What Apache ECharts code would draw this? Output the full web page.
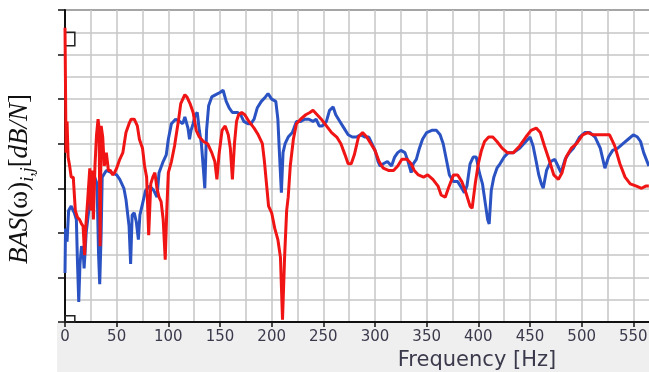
<!DOCTYPE html>
<html>
<head>
<meta charset="utf-8">
<script src="https://cdn.jsdelivr.net/npm/echarts@6/dist/echarts.min.js"></script>
<style>
  html, body { margin: 0; padding: 0; background: #fff; }
  #chart { width: 649px; height: 372px; }
</style>
</head>
<body>
<div id="chart"></div>
<script>
// frequency [Hz] and level (grid units)
const blueHz = [0, 0.5, 2, 3.5, 6, 9, 11, 12, 13.3, 14.5, 16, 17.5, 18.5, 20.5, 23, 25.5, 28, 31, 32.5, 33.6,
  35, 36, 40, 45, 50, 53, 57, 59, 61, 62, 63.5, 65, 67, 69, 71, 72.5, 75, 78, 82, 86,
  89, 91, 95, 98, 100, 103, 107, 111, 114, 116, 119, 120.5, 122, 124, 126, 128, 130, 132, 134, 135.3,
  137, 139, 142, 146, 150, 153, 156, 159, 162, 167, 170, 173, 177, 180, 183, 186, 190, 194, 196.5, 200,
  204, 206, 207.5, 209.4, 211, 213, 216, 220, 224, 228, 232, 236, 240, 243, 246, 249, 253, 256, 259.5, 262,
  266, 270, 274, 278, 282, 286, 290, 294, 297, 300, 303, 305, 308, 312, 316, 319, 322, 325, 329, 332,
  335, 337, 340, 343, 346, 350, 355, 359.5, 363, 366, 369, 372, 376, 380, 384, 386.5, 389, 392, 395, 398,
  401, 404, 406.5, 409, 410.5, 412.5, 415, 418, 421, 425, 429, 434, 440, 446, 450, 453, 456, 458.5, 461, 462.8,
  466, 470, 474, 477, 480, 484, 488, 492, 498, 503, 508, 513, 518, 522.5, 526, 530, 535, 540, 545, 550,
  554, 557, 560, 565];
const blueVal = [2.2, 4.2, 3.6, 5.0, 5.2, 4.9, 4.6, 2.8, 0.9, 2.6, 3.4, 3.2, 2.4, 4.0, 5.0, 6.7, 6.6, 6.2, 3.0, 1.7,
  4.0, 6.5, 6.8, 6.7, 6.6, 6.4, 6.0, 5.5, 4.7, 4.3, 2.6, 4.8, 4.9, 4.5, 3.7, 4.8, 5.3, 5.9, 6.1, 5.9,
  5.6, 6.7, 7.2, 7.5, 8.2, 8.9, 9.1, 9.0, 8.9, 9.2, 8.7, 8.2, 8.6, 8.9, 9.3, 9.4, 8.6, 8.0, 6.8, 6.0,
  8.6, 9.7, 10.1, 10.2, 10.3, 10.4, 9.9, 9.6, 9.4, 9.4, 9.3, 9.0, 8.9, 8.9, 9.1, 9.6, 9.9, 10.1, 10.25, 10.0,
  9.9, 9.1, 7.6, 5.8, 7.6, 8.0, 8.3, 8.5, 9.0, 9.0, 9.1, 9.1, 9.0, 9.1, 8.8, 8.8, 9.0, 9.5, 9.65, 9.3,
  9.0, 8.7, 8.4, 8.3, 8.3, 8.4, 8.3, 8.3, 8.0, 7.7, 7.2, 7.0, 7.1, 7.2, 7.0, 7.4, 7.6, 7.7, 7.6, 7.2,
  6.7, 7.1, 7.3, 7.8, 8.2, 8.5, 8.6, 8.6, 8.4, 8.0, 7.3, 6.6, 6.3, 6.3, 6.0, 5.8, 6.1, 7.1, 7.4, 7.4,
  6.7, 6.2, 5.4, 4.6, 4.4, 5.9, 6.5, 6.9, 7.1, 7.4, 7.6, 7.6, 7.8, 8.1, 8.3, 7.9, 7.2, 6.6, 6.2, 6.0,
  6.8, 7.2, 7.3, 7.0, 6.7, 7.3, 7.6, 7.8, 8.3, 8.5, 8.5, 8.3, 7.8, 6.9, 7.4, 7.7, 7.8, 8.0, 8.2, 8.4,
  8.3, 8.1, 7.6, 7.0];

const redHz = [0, 0.5, 1, 2, 3, 4.5, 6, 8, 10, 12, 14, 16, 17.5, 19, 20, 22, 24, 25, 26.5, 27.5,
  29, 30.5, 32, 33, 34, 35, 36.5, 38, 40, 42, 44, 46, 48, 50, 53, 56, 59, 62, 64, 67,
  70, 72, 75, 77, 79, 81, 83, 85, 87, 89, 91, 93, 95, 97, 98.5, 100, 103, 106, 108, 110,
  112, 114, 116, 118, 121, 124, 127, 130, 134, 138, 142, 145, 147, 149, 152, 155, 158, 160, 162, 164,
  166, 168, 171, 174, 178, 183, 187, 191, 193, 195, 197, 200, 203, 206, 208.5, 210.5, 212.5, 214.5, 216, 218,
  221, 224, 228, 233, 237, 240, 244, 248, 253, 258, 263, 267, 271, 274, 277, 280, 284, 288, 292, 296,
  300, 304, 308, 313, 318, 322, 326, 331, 335, 338, 342, 347, 351, 356, 361, 364, 368, 371, 376, 380,
  384, 388, 392, 394, 397, 400, 403, 406, 410, 414, 418, 423, 428, 434, 440, 446, 451, 456, 460, 464,
  469, 473, 477.5, 481, 485, 490, 495, 501, 506, 511, 516, 522, 527, 532, 537, 542, 547, 553, 558, 562,
  565];
const redVal = [13.2, 10.5, 7.6, 9.0, 7.4, 7.0, 6.5, 6.5, 5.0, 4.7, 4.6, 4.4, 4.3, 3.0, 4.2, 5.5, 6.9, 5.0, 6.8, 4.6,
  7.0, 8.4, 9.1, 8.7, 3.4, 8.8, 8.3, 7.0, 7.6, 6.8, 6.8, 6.6, 6.7, 6.9, 7.3, 7.6, 8.5, 8.9, 9.1, 9.1,
  8.8, 8.2, 7.8, 7.0, 6.5, 3.9, 6.2, 6.5, 6.7, 6.0, 5.6, 5.4, 4.6, 2.8, 5.0, 6.7, 7.2, 7.9, 8.5, 9.1,
  9.8, 10.0, 10.2, 10.1, 9.8, 9.4, 8.6, 8.3, 8.1, 8.0, 7.6, 7.2, 6.4, 7.5, 8.6, 8.8, 8.4, 7.8, 6.4, 8.0,
  9.0, 9.3, 9.4, 9.3, 9.0, 8.7, 8.4, 8.0, 7.2, 6.2, 5.2, 4.9, 4.2, 3.7, 2.9, 0.1, 2.9, 5.0, 5.6, 7.0,
  8.2, 8.9, 9.1, 9.3, 9.4, 9.5, 9.3, 9.1, 8.8, 8.5, 8.3, 8.0, 7.5, 7.1, 7.1, 7.5, 8.3, 8.5, 8.3, 8.0,
  7.7, 7.2, 6.9, 6.8, 6.8, 7.0, 7.3, 7.3, 7.1, 6.8, 6.6, 6.5, 6.6, 6.4, 6.1, 5.7, 5.6, 6.0, 6.6, 6.6,
  6.3, 5.8, 5.2, 5.1, 6.2, 7.1, 7.7, 8.1, 8.3, 8.3, 8.1, 7.8, 7.6, 7.6, 7.9, 8.3, 8.6, 8.7, 8.5, 7.9,
  7.2, 6.6, 6.4, 6.7, 7.4, 7.8, 8.0, 8.4, 8.5, 8.4, 8.4, 8.4, 8.4, 7.9, 7.1, 6.5, 6.2, 6.1, 6.0, 6.1,
  6.1];

// small cursor boxes at the left edge: [hzFrom, hzTo, valFrom, valTo]
const cursorBoxes = [[0, 9.5, 12.4, 13.0], [0, 9.5, 0, 0.28]];

const xTicks = { min: 0, max: 600, step: 50 };
const yTicks = { min: 0, max: 14, step: 2 };

const zip = (xs, ys) => xs.map((x, i) => [x, ys[i]]);

const chart = echarts.init(document.getElementById("chart"));

const gridLine = { lineStyle: { color: "#c6c6c6", width: 1.5 } };
const labelColor = "#3a3a4c";

const option = {
  animation: false,
  backgroundColor: "#fff",
  graphic: [
    {
      type: "rect",
      left: 57,
      top: 323,
      shape: { width: 600, height: 60 },
      style: { fill: "#efefef" },
      z: -10,
    },
  ],
  grid: {
    left: 65,
    top: 10,
    right: -36,
    bottom: 50,
    outerBoundsMode: "none",
    containLabel: false,
    show: true,
    backgroundColor: "#fff",
    borderColor: "#444",
    borderWidth: 2,
  },
  xAxis: {
    type: "value",
    min: xTicks.min,
    max: xTicks.max,
    interval: xTicks.step,
    axisLine: { lineStyle: { color: "#111", width: 2 } },
    axisTick: { length: 5, lineStyle: { color: "#111", width: 1.5 } },
    axisLabel: {
      color: labelColor,
      fontSize: 15,
      fontFamily: "DejaVu Sans",
      margin: 8,
    },
    splitLine: gridLine,
    minorTick: { show: false, splitNumber: 2 },
    minorSplitLine: { show: true, ...gridLine },
    name: "Frequency [Hz]",
    nameLocation: "middle",
    nameGap: 26,
    nameTextStyle: {
      color: labelColor,
      fontSize: 21,
      fontFamily: "DejaVu Sans",
      padding: [0, 0, 0, 204],
    },
  },
  yAxis: {
    type: "value",
    min: yTicks.min,
    max: yTicks.max,
    interval: yTicks.step,
    axisLine: { show: true, lineStyle: { color: "#111", width: 2 } },
    axisTick: { show: true, length: 7, lineStyle: { color: "#111", width: 1.5 } },
    axisLabel: { show: false },
    splitLine: gridLine,
    minorTick: { show: false, splitNumber: 2 },
    minorSplitLine: { show: true, ...gridLine },
    name: "{it|BAS}{up|(ω)}{sub|i,j}{up|[}{it|dB/N}{up|]}",
    nameLocation: "middle",
    nameRotate: 90,
    nameGap: 28,
    nameTextStyle: {
      padding: [0, 26, 0, 0],
      rich: {
        it: {
          fontFamily: "Liberation Serif",
          fontStyle: "italic",
          fontSize: 27,
          color: "#111",
          lineHeight: 34,
        },
        up: {
          fontFamily: "Liberation Serif",
          fontSize: 27,
          color: "#111",
          lineHeight: 34,
        },
        sub: {
          fontFamily: "Liberation Serif",
          fontStyle: "italic",
          fontSize: 18,
          color: "#111",
          lineHeight: 18,
          verticalAlign: "bottom",
        },
      },
    },
  },
  series: [
    {
      type: "line",
      data: zip(blueHz, blueVal),
      showSymbol: false,
      lineStyle: { color: "#2a52c2", width: 3 },
      z: 2,
    },
    {
      type: "line",
      data: zip(redHz, redVal),
      showSymbol: false,
      lineStyle: { color: "#f01414", width: 3 },
      z: 3,
      markArea: {
        silent: true,
        itemStyle: { color: "rgba(0,0,0,0)", borderColor: "#222", borderWidth: 1.5 },
        data: cursorBoxes.map((b) => [{ coord: [b[0], b[2]] }, { coord: [b[1], b[3]] }]),
      },
    },
  ],
};

chart.setOption(option);
</script>
</body>
</html>
